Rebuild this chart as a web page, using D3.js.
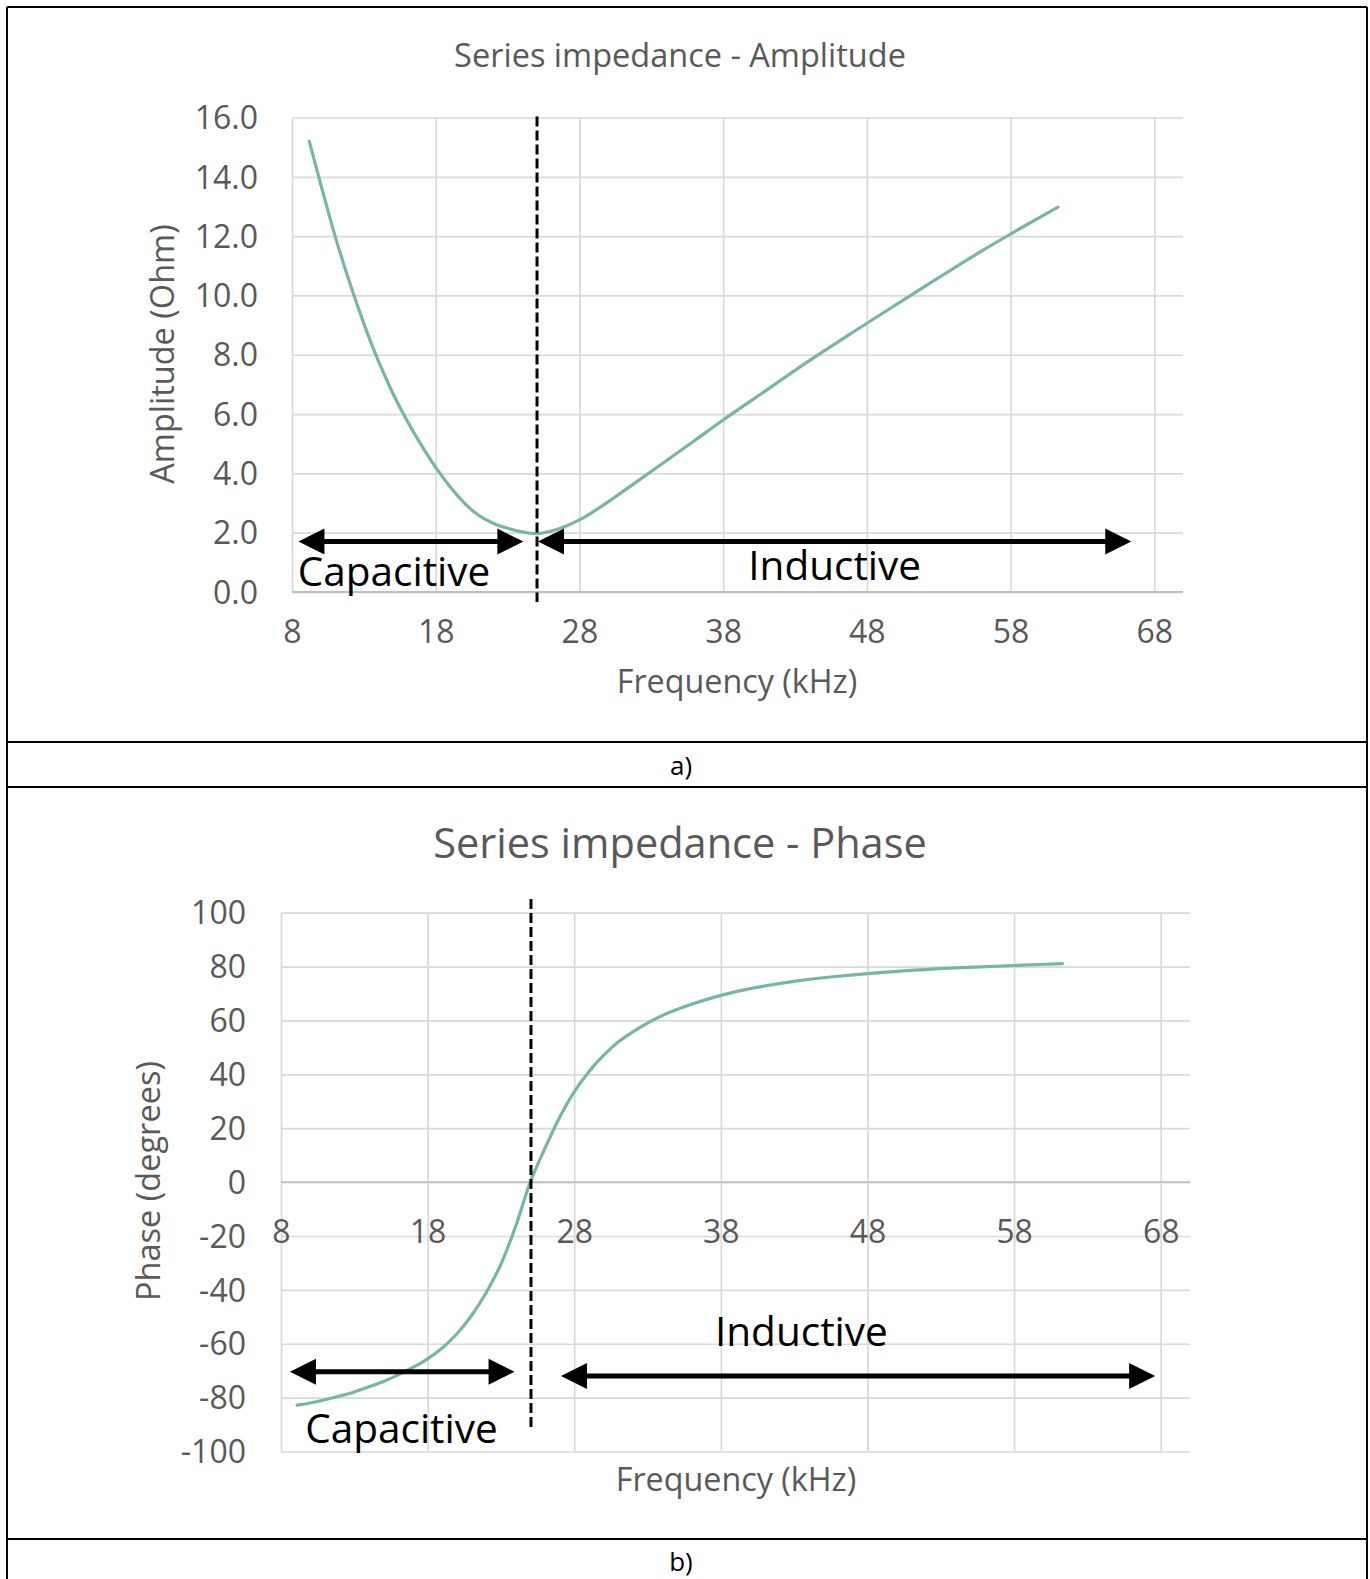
<!DOCTYPE html>
<html><head><meta charset="utf-8">
<script src="https://cdn.jsdelivr.net/npm/d3@7"></script>
<style>body{margin:0;background:#fff} svg{display:block}</style>
</head><body><svg id="c" width="1370" height="1579"></svg>
<script>
// ---------- data ----------
const freqTicks = [8, 18, 28, 38, 48, 58, 68];
const ampTicks = [0, 2, 4, 6, 8, 10, 12, 14, 16];
const phaseTicks = [-100, -80, -60, -40, -20, 0, 20, 40, 60, 80, 100];

const ampFreq  = [9.2, 10, 11, 12, 13, 14, 15, 16, 17, 18, 19, 20, 21, 22, 23, 24, 25, 26, 27, 28, 29, 30, 32, 34, 36, 38, 41, 44, 47, 50, 53, 56, 59, 61.3];
const ampValue = [15.2, 13.75, 12.0, 10.45, 9.05, 7.8, 6.72, 5.78, 4.95, 4.2, 3.55, 3.0, 2.58, 2.32, 2.15, 2.03, 1.97, 2.05, 2.21, 2.43, 2.72, 3.04, 3.72, 4.41, 5.1, 5.8, 6.8, 7.8, 8.75, 9.68, 10.6, 11.5, 12.35, 12.98];

const phaseFreq  = [9.1, 10, 11, 12, 13, 14, 15, 16, 17, 18, 19, 20, 21, 22, 23, 24, 25, 26, 27, 28, 29, 30, 31, 32, 34, 36, 38, 40, 43, 46, 50, 54, 58, 61.3];
const phaseValue = [-82.8, -82, -80.8, -79.4, -77.9, -76, -74, -71.5, -68.8, -65.6, -61.6, -56.3, -49.5, -41, -30.5, -16.5, 0, 12.5, 24, 33.5, 41, 47, 52, 55.8, 61.8, 66.0, 69.3, 71.8, 74.5, 76.4, 78.2, 79.5, 80.4, 81.1];

const resonanceFreq = 25.05;

// ---------- styling ----------
const FONT = "'Open Sans', 'Noto Sans', sans-serif";
const GREY = "#595959";
const GRID = "#d9d9d9";
const AXIS = "#bfbfbf";
const CURVE = "#79b6a0";

const svg = d3.select("#c");
svg.append("rect").attr("width", 1370).attr("height", 1579).attr("fill", "#fff");

function arrow(g, x1, x2, y, headLeft, headRight) {
  const hl = 26, hh = 13;
  g.append("line")
    .attr("x1", headLeft ? x1 + hl - 2 : x1).attr("x2", headRight ? x2 - hl + 2 : x2)
    .attr("y1", y).attr("y2", y)
    .attr("stroke", "#000").attr("stroke-width", 5);
  if (headLeft) g.append("path").attr("d", `M${x1},${y}L${x1 + hl},${y - hh}L${x1 + hl},${y + hh}Z`).attr("fill", "#000");
  if (headRight) g.append("path").attr("d", `M${x2},${y}L${x2 - hl},${y - hh}L${x2 - hl},${y + hh}Z`).attr("fill", "#000");
}

function chart(cfg) {
  const g = svg.append("g");
  const x = d3.scaleLinear().domain([8, 70]).range(cfg.xr);
  const y = d3.scaleLinear().domain(cfg.yd).range(cfg.yr);

  // gridlines
  const gx = g.append("g").attr("transform", `translate(0,${cfg.yr[0]})`)
    .call(d3.axisBottom(x).tickValues(freqTicks).tickSize(-(cfg.yr[0] - cfg.yr[1])).tickFormat(""));
  gx.select(".domain").remove();
  gx.selectAll("line").attr("stroke", GRID).attr("stroke-width", 1.7);
  const gy = g.append("g").attr("transform", `translate(${cfg.xr[0]},0)`)
    .call(d3.axisLeft(y).tickValues(cfg.yTicks).tickSize(-(cfg.xr[1] - cfg.xr[0])).tickFormat(""));
  gy.select(".domain").remove();
  gy.selectAll("line").attr("stroke", GRID).attr("stroke-width", 1.7);
  // horizontal axis line
  g.append("line").attr("x1", cfg.xr[0]).attr("x2", cfg.xr[1])
    .attr("y1", y(cfg.axisAt)).attr("y2", y(cfg.axisAt))
    .attr("stroke", AXIS).attr("stroke-width", 1.9);

  // tick labels
  const ly = g.append("g").attr("transform", `translate(${cfg.xr[0]},0)`)
    .call(d3.axisLeft(y).tickValues(cfg.yTicks).tickFormat(cfg.yFmt).tickSize(0).tickPadding(cfg.yPad));
  ly.select(".domain").remove();
  ly.attr("font-family", FONT).attr("font-size", 32);
  ly.selectAll("text").attr("fill", GREY).attr("dy", "0.35em");

  const lx = g.append("g").attr("transform", `translate(0,${y(cfg.axisAt)})`)
    .call(d3.axisBottom(x).tickValues(freqTicks).tickFormat(d => String(d)).tickSize(0).tickPadding(cfg.xPad));
  lx.select(".domain").remove();
  lx.attr("font-family", FONT).attr("font-size", 32);
  lx.selectAll("text").attr("fill", GREY);

  // titles
  g.append("text").attr("x", 680).attr("y", cfg.titleY).attr("text-anchor", "middle")
    .attr("font-family", FONT).attr("font-size", cfg.titleSize).attr("fill", GREY).text(cfg.title);
  g.append("text").attr("x", cfg.xTitleX).attr("y", cfg.xTitleY).attr("text-anchor", "middle")
    .attr("font-family", FONT).attr("font-size", 32.3).attr("fill", GREY).text("Frequency (kHz)");
  g.append("text").attr("transform", `translate(${cfg.yTitleX},${cfg.yTitleY}) rotate(-90)`)
    .attr("text-anchor", "middle")
    .attr("font-family", FONT).attr("font-size", 32.5).attr("fill", GREY).text(cfg.yTitle);

  // curve
  const line = d3.line().x(d => x(d[0])).y(d => y(d[1])).curve(d3.curveCatmullRom.alpha(0.5));
  g.append("path").datum(d3.zip(cfg.fx, cfg.fy)).attr("d", line)
    .attr("fill", "none").attr("stroke", CURVE).attr("stroke-width", 3.2).attr("stroke-linecap", "round");

  // resonance dashed line
  g.append("line").attr("x1", x(resonanceFreq)).attr("x2", x(resonanceFreq))
    .attr("y1", y(cfg.dashTop)).attr("y2", y(cfg.dashBot))
    .attr("stroke", "#000").attr("stroke-width", 3).attr("stroke-dasharray", "10,4");

  // region arrows and labels
  arrow(g, x(cfg.capArrow[0]), x(cfg.capArrow[1]), y(cfg.capArrow[2]), true, true);
  arrow(g, x(cfg.indArrow[0]), x(cfg.indArrow[1]), y(cfg.indArrow[2]), true, true);
  g.append("text").attr("x", x(cfg.capLabel[0])).attr("y", y(cfg.capLabel[1]))
    .attr("font-family", FONT).attr("font-size", 40.5).attr("fill", "#000").text("Capacitive");
  g.append("text").attr("x", x(cfg.indLabel[0])).attr("y", y(cfg.indLabel[1]))
    .attr("font-family", FONT).attr("font-size", 40.5).attr("fill", "#000").text("Inductive");
}

chart({
  xr: [292, 1183], yd: [0, 16], yr: [592, 117.5], yTicks: ampTicks, yFmt: d3.format(".1f"),
  yPad: 34, xPad: 28, axisAt: 0,
  title: "Series impedance - Amplitude", titleY: 67, titleSize: 32.5,
  xTitleX: 737, xTitleY: 693, yTitle: "Amplitude (Ohm)", yTitleX: 174, yTitleY: 354,
  fx: ampFreq, fy: ampValue, dashTop: 16.03, dashBot: -0.34,
  capArrow: [8.45, 24.1, 1.7], indArrow: [25.12, 66.4, 1.7],
  capLabel: [8.4, 0.2], indLabel: [39.75, 0.41]
});

chart({
  xr: [281, 1190], yd: [-100, 100], yr: [1451.5, 912.7], yTicks: phaseTicks, yFmt: d => String(d),
  yPad: 35, xPad: 38, axisAt: 0,
  title: "Series impedance - Phase", titleY: 858, titleSize: 41.5,
  xTitleX: 736, xTitleY: 1491, yTitle: "Phase (degrees)", yTitleX: 160, yTitleY: 1181,
  fx: phaseFreq, fy: phaseValue, dashTop: 105.1, dashBot: -91.3,
  capArrow: [8.61, 23.93, -70.4], indArrow: [27.1, 67.62, -72.0],
  capLabel: [9.65, -96.8], indLabel: [37.6, -60.8]
});

// table borders and captions
const borders = [
  [7, 7, 1367, 7], [7, 742, 1367, 742], [7, 787, 1367, 787], [7, 1539, 1367, 1539],
  [7, 7, 7, 1579], [1367, 7, 1367, 1579]
];
svg.selectAll("line.border").data(borders).enter().append("line").attr("class", "border")
  .attr("x1", d => d[0]).attr("y1", d => d[1]).attr("x2", d => d[2]).attr("y2", d => d[3])
  .attr("stroke", "#000").attr("stroke-width", 2);
svg.append("text").attr("x", 681).attr("y", 775).attr("text-anchor", "middle")
  .attr("font-family", FONT).attr("font-size", 26).attr("fill", "#000").text("a)");
svg.append("text").attr("x", 681).attr("y", 1571).attr("text-anchor", "middle")
  .attr("font-family", FONT).attr("font-size", 26).attr("fill", "#000").text("b)");
</script></body></html>
